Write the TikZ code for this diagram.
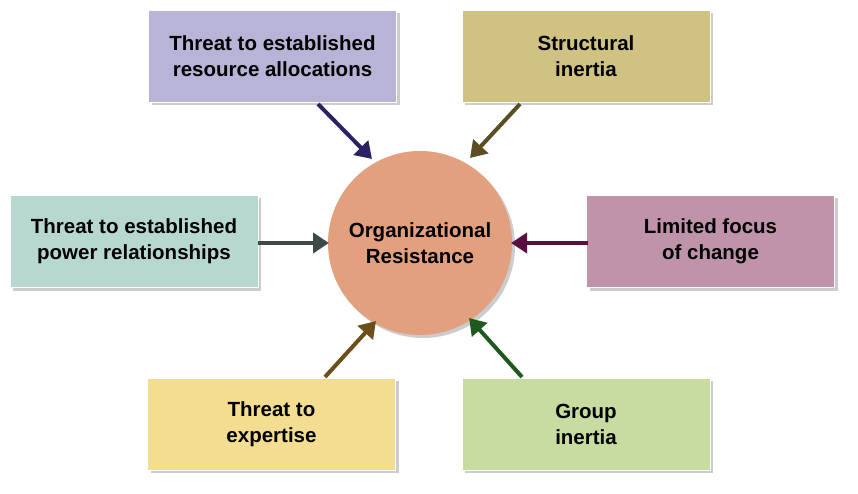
\documentclass[tikz,border=0pt]{standalone}
\usepackage{fontspec}
\setmainfont{Liberation Sans}
\usetikzlibrary{shadows,arrows.meta}
\definecolor{cA}{HTML}{B8B4D8}\definecolor{cB}{HTML}{CFC283}
\definecolor{cC}{HTML}{B6D8D0}\definecolor{cD}{HTML}{BF93AA}
\definecolor{cE}{HTML}{F3DD90}\definecolor{cF}{HTML}{C8DBA0}
\definecolor{cO}{HTML}{E3A07E}
\definecolor{aA}{HTML}{2B2266}\definecolor{aB}{HTML}{5A4E22}
\definecolor{aC}{HTML}{3E4A48}\definecolor{aD}{HTML}{5A0F3E}
\definecolor{aE}{HTML}{6B4E1A}\definecolor{aF}{HTML}{1E5A20}
\begin{document}
\begin{tikzpicture}[x=1pt,y=-1pt,
 box/.style={draw=white,line width=0.8pt,minimum width=248pt,minimum height=92pt,align=center,font=\fontsize{20.5}{26}\selectfont\bfseries,drop shadow={shadow xshift=3pt,shadow yshift=-3pt,opacity=0.4}},
 arr/.style={line width=4pt,-{Triangle[length=16pt,width=20pt]}}]
\useasboundingbox (0,0) rectangle (858,494);
\node[box,fill=cA] (a) at (272.5,56) {Threat to established\\resource allocations};
\node[box,fill=cB] (b) at (586,56) {Structural\\inertia};
\node[box,fill=cC] (c) at (134,241.5) {Threat to established\\power relationships};
\node[box,fill=cD] (d) at (710.5,241.5) {Limited focus\\of change};
\node[box,fill=cE] (e) at (271.5,424) {Threat to\\expertise};
\node[box,fill=cF] (f) at (586,424) {Group\\inertia};
\node[circle,fill=cO,minimum size=184pt,align=center,font=\fontsize{20.5}{26}\selectfont\bfseries,drop shadow={shadow xshift=3pt,shadow yshift=-3pt,opacity=0.4}] (o) at (420,243) {Organizational\\Resistance};
\coordinate (a1) at (318,104);\coordinate (b1) at (520,104);
\coordinate (c1) at (258,243);\coordinate (d1) at (588,243);
\coordinate (e1) at (325,377);\coordinate (f1) at (522,377);
\draw[arr,aA] (a1) -- (372,159);
\draw[arr,aB] (b1) -- (470,158);
\draw[arr,aC] (c1) -- (329,243);
\draw[arr,aD] (d1) -- (511,243);
\draw[arr,aE] (e1) -- (376,321);
\draw[arr,aF] (f1) -- (469,318);
\end{tikzpicture}
\end{document}
